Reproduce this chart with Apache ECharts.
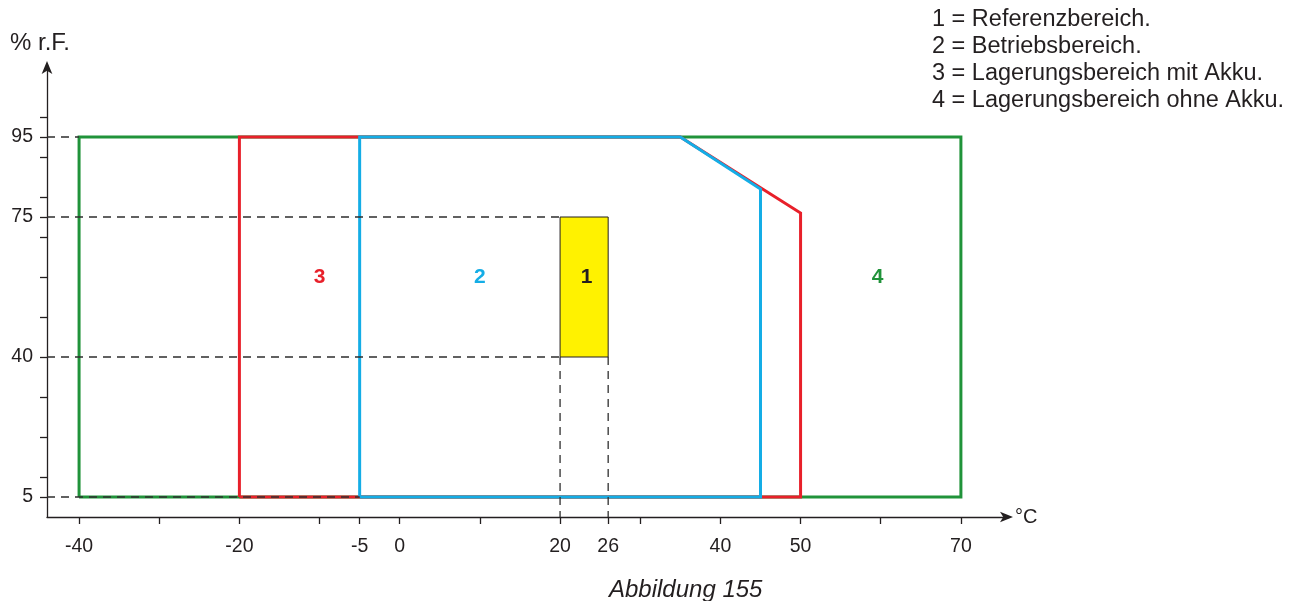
<!DOCTYPE html>
<html>
<head>
<meta charset="utf-8">
<script src="https://cdn.jsdelivr.net/npm/echarts@6/dist/echarts.min.js"></script>
<style>
html,body{margin:0;padding:0;background:#fff;}
#chart{width:1300px;height:601px;}
</style>
</head>
<body>
<div id="chart"></div>
<script>
// ---- data ----
const xTicks = [-40, -30, -20, -10, -5, 0, 10, 20, 26, 30, 40, 50, 60, 70];
const xTickLabels = [-40, -20, -5, 0, 20, 26, 40, 50, 70];
const yTicks = [5, 10, 20, 30, 40, 50, 60, 70, 75, 80, 90, 95, 100];
const yTickLabels = [5, 40, 75, 95];
const zone4 = [[-40, 5], [-40, 95], [70, 95], [70, 5], [-40, 5]];
const zone3 = [[-20, 5], [-20, 95], [35, 95], [50, 76], [50, 5], [-20, 5]];
const zone2 = [[-5, 5], [-5, 95], [35, 95], [45, 82], [45, 5], [-5, 5]];
const zone1 = [[20, 40], [20, 75], [26, 75], [26, 40]];
const refLines = [
  [[-44, 95], [-40, 95]],
  [[-44, 75], [20, 75]],
  [[-44, 40], [20, 40]],
  [[-44, 5], [-5, 5]],
  [[20, 40], [20, 0]],
  [[26, 40], [26, 0]]
];
const zoneLabels = [
  { name: '3', x: -10, y: 60, color: '#e8202a' },
  { name: '2', x: 10, y: 60, color: '#14ade6' },
  { name: '1', x: 23.3, y: 60, color: '#231f20' },
  { name: '4', x: 59.6, y: 60, color: '#20933a' }
];
const legendLines = [
  '1 = Referenzbereich.',
  '2 = Betriebsbereich.',
  '3 = Lagerungsbereich mit Akku.',
  '4 = Lagerungsbereich ohne Akku.'
];
const yAxisTitle = '% r.F.';
const xAxisTitle = '°C';
const caption = 'Abbildung 155';

// ---- chart ----
const FONT = '"Liberation Sans", Arial, sans-serif';
const INK = '#231f20';
const chart = echarts.init(document.getElementById('chart'), null, { renderer: 'canvas' });

const series = [];
refLines.forEach(function (seg) {
  series.push({
    type: 'line', data: seg, symbol: 'none', silent: true, z: 5,
    lineStyle: { color: '#2e2e2e', width: 1.3, type: [8, 6] }
  });
});
[[zone4, '#20933a'], [zone3, '#e8202a'], [zone2, '#14ade6']].forEach(function (z, i) {
  series.push({
    type: 'line', data: z[0], symbol: 'none', silent: true, z: 2 + i * 0.1,
    lineStyle: { color: z[1], width: 3, join: 'miter' }
  });
});
series.push({
  type: 'custom', silent: true, z: 6,
  data: [0],
  renderItem: function (params, api) {
    const pts = zone1.map(function (p) { return api.coord(p); });
    return {
      type: 'polygon',
      shape: { points: pts },
      style: { fill: '#fff200', stroke: INK, lineWidth: 1 }
    };
  }
});
series.push({
  type: 'custom', silent: true, z: 7,
  data: zoneLabels.map(function (l) { return [l.x, l.y]; }),
  renderItem: function (params, api) {
    const l = zoneLabels[params.dataIndex];
    const p = api.coord([api.value(0), api.value(1)]);
    return {
      type: 'text', x: p[0], y: p[1],
      style: { text: l.name, fill: l.color, font: 'bold 21px ' + FONT,
        textAlign: 'center', textVerticalAlign: 'middle' }
    };
  }
});

const graphics = legendLines.map(function (t, i) {
  return {
    type: 'text', x: 932, y: 19.5 + i * 27,
    style: { text: t, font: '23.5px ' + FONT, fill: INK, textVerticalAlign: 'middle' }
  };
});
graphics.push({
  type: 'text', x: 10, y: 43,
  style: { text: yAxisTitle, font: '24px ' + FONT, fill: INK, textVerticalAlign: 'middle' }
});
graphics.push({
  type: 'text', x: 609, y: 590,
  style: { text: caption, font: 'italic 24px ' + FONT, fill: INK, textVerticalAlign: 'middle' }
});

chart.setOption({
  animation: false,
  backgroundColor: '#fff',
  grid: { left: 47, top: 65, width: 962, height: 452, containLabel: false },
  xAxis: {
    type: 'value', min: -44, max: 76, interval: 4,
    name: xAxisTitle, nameLocation: 'end', nameGap: 6,
    nameTextStyle: { color: INK, fontSize: 20, fontFamily: FONT },
    axisLine: { show: true, onZero: false, symbol: ['none', 'arrow'], symbolSize: [8, 13], symbolOffset: [0, 4],
      lineStyle: { color: INK, width: 1.3 } },
    axisTick: { show: true, length: 7, customValues: xTicks, lineStyle: { color: INK, width: 1.3 } },
    axisLabel: { customValues: xTickLabels, margin: 20, color: INK, fontSize: 19.5, fontFamily: FONT },
    splitLine: { show: false }
  },
  yAxis: {
    type: 'value', min: 0, max: 113,
    axisLine: { show: true, onZero: false, symbol: ['none', 'arrow'], symbolSize: [8, 13], symbolOffset: [0, 4],
      lineStyle: { color: INK, width: 1.3 } },
    axisTick: { show: true, length: 7, customValues: yTicks, lineStyle: { color: INK, width: 1.3 } },
    axisLabel: { customValues: yTickLabels, margin: 14, color: INK, fontSize: 19.5, fontFamily: FONT,
      padding: [3, 0, 0, 0] },
    splitLine: { show: false }
  },
  series: series,
  graphic: graphics
});
</script>
</body>
</html>
